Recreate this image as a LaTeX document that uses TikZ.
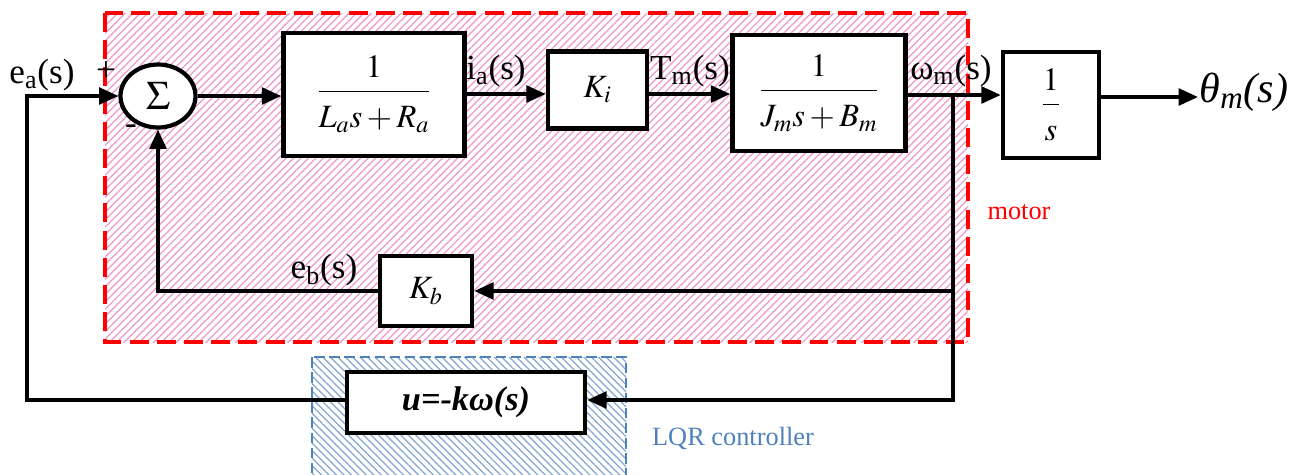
\documentclass[tikz,border=0pt]{standalone}
\usepackage{amsmath}
\usepackage{mathptmx}
\usepackage{fontspec}
\setmainfont{Liberation Serif}
\usetikzlibrary{arrows.meta,patterns.meta,shapes.geometric}

\definecolor{hatchpink}{RGB}{238,150,200}
\definecolor{lqrblue}{RGB}{79,129,189}
\definecolor{hatchblue}{RGB}{130,165,210}
\newcommand{\blockfrac}[2]{\dfrac{#1\rule[-4pt]{0pt}{0pt}}{\rule{0pt}{18pt}#2}}

\begin{document}
\begin{tikzpicture}[x=0.02cm, y=-0.02cm, line width=2pt,
>={Triangle[length=11pt,width=9.5pt]},
block/.style 2 args={draw, fill=white, line width=2.6pt, inner sep=0pt,
  minimum width=#1*0.02cm, minimum height=#2*0.02cm, font=\fontsize{18.5}{22}\selectfont},
sum/.style={ellipse, draw, fill=white, line width=2.4pt, inner sep=0pt,
  minimum width=75*0.02cm, minimum height=63*0.02cm, font=\fontsize{23}{25}\selectfont},
lbl/.style={font=\fontsize{20}{24}\selectfont, inner sep=0pt},
note/.style={font=\fontsize{15}{18}\selectfont, inner sep=0pt},
region/.style={line width=#1, dash pattern=on 6*#1 off 2.6*#1}]
\useasboundingbox (0,0) rectangle (1304,474);
% shaded regions
\draw[region=1.8pt, red, pattern={Lines[angle=45,distance=3pt,line width=0.7pt]}, pattern color=hatchpink]
  (105,13) rectangle (968,342);
\draw[region=1pt, lqrblue, pattern={Lines[angle=-45,distance=3pt,line width=0.7pt]}, pattern color=hatchblue]
  (312,357) rectangle (626,480);
\node[note, red] (motor) at (1019,212) {motor};
\node[note, lqrblue] (lqrtxt) at (733,438) {LQR controller};
% blocks
\node[sum] (sum) at (158,96) {$\Sigma$};
\node[block={181}{123}] (arm) at (374,94.5) {$\blockfrac{1}{L_a s+R_a}$};
\node[block={99}{77}] (ki) at (597.5,90) {$K_i$};
\node[block={173}{116}] (mech) at (819,93) {$\blockfrac{1}{J_m s+B_m}$};
\node[block={96}{106}] (integ) at (1051,105) {$\blockfrac{1}{s}$};
\node[block={92}{70}] (kb) at (426,291) {$K_b$};
\node[block={238}{61}, font=\fontsize{19.5}{23}\selectfont\bfseries\itshape] (lqr) at (466,402.5) {u=-kω(s)};
\node[lbl, font=\fontsize{24}{28}\selectfont\itshape, anchor=west] (theta) at (1198,92) {θ\textsubscript{m}(s)};
\coordinate (ea) at (27,96);
\coordinate (wm) at (953,95);
\coordinate (fb) at (953,291);
% signals
\draw[->] (lqr.west |- 0,400) -| (ea) -- (sum.west);
\draw[->] (sum.east) -- (arm.west |- sum.east);
\draw[->] (arm.east |- 0,94) -- (ki.west |- 0,94);
\draw[->] (ki.east |- 0,94) -- (mech.west |- 0,94);
\draw[->] (mech.east |- 0,95) -- (integ.west |- 0,95);
\draw[->] (integ.east |- 0,97) -- (theta.west |- 0,97);
\draw[->] (wm) |- (lqr.east |- 0,400);
\draw[->] (fb) -- (kb.east);
\draw[->] (kb.west) -| (sum.south);
% labels
\node[lbl] (ealbl) at (42,75) {e\textsubscript{a}(s)};
\node[lbl] (plus) at (106,72) {+};
\node[lbl] (minus) at (131,130) {-};
\node[lbl] (ialbl) at (496,71) {i\textsubscript{a}(s)};
\node[lbl] (tmlbl) at (690,71) {T\textsubscript{m}(s)};
\node[lbl] (wmlbl) at (951,71) {ω\textsubscript{m}(s)};
\node[lbl] (eblbl) at (324,270) {e\textsubscript{b}(s)};
\end{tikzpicture}
\end{document}
